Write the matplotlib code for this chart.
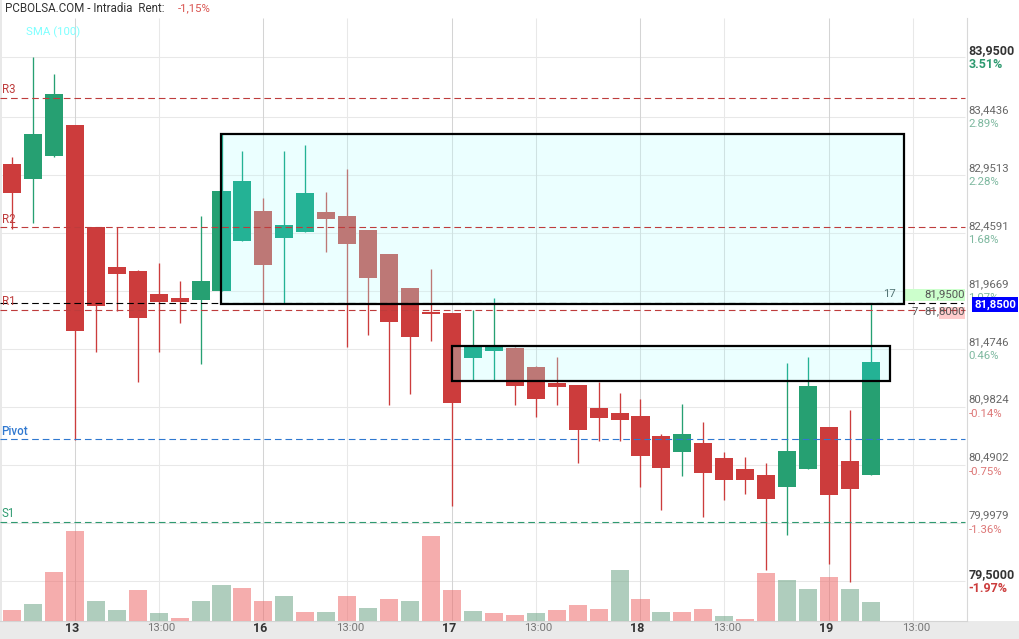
#!/usr/bin/env python3
"""
PCBOLSA intraday candlestick chart with volume and two highlighted zones
"""

import matplotlib
matplotlib.use('Agg')
import matplotlib.pyplot as plt
from matplotlib.patches import Rectangle
from matplotlib.transforms import blended_transform_factory

plt.rcParams['font.family'] = ['Roboto', 'DejaVu Sans']

# Candle data
opens = [83.044, 82.916, 83.112, 83.375, 82.509, 82.169, 82.135, 81.940, 81.906, 81.889, 81.965,
         82.390, 82.645, 82.415, 82.466, 82.636, 82.602, 82.483, 82.279, 81.991, 81.783,
         81.778, 81.396, 81.456, 81.481, 81.320, 81.184, 81.167, 80.972, 80.929, 80.904,
         80.734, 80.598, 80.674, 80.547, 80.454, 80.403, 80.301, 80.454, 80.810, 80.522, 80.403]
highs = [83.103, 83.953, 83.808, 83.375, 82.509, 82.509, 82.144, 82.203, 82.050, 82.602, 83.307,
         83.154, 82.755, 83.154, 83.205, 82.806, 83.001, 82.483, 82.279, 81.991, 82.152,
         81.778, 81.804, 81.906, 81.490, 81.328, 81.405, 81.167, 81.192, 81.099, 81.048,
         80.751, 81.006, 80.853, 80.598, 80.556, 80.505, 81.354, 81.405, 80.810, 80.955, 81.855]
lows = [82.492, 82.543, 83.103, 80.700, 81.447, 81.795, 81.192, 81.447, 81.693, 81.345, 81.965,
        82.390, 81.863, 81.863, 82.466, 82.296, 81.490, 81.592, 80.997, 81.090, 81.541,
        80.139, 81.209, 81.201, 80.997, 80.895, 80.997, 80.505, 80.691, 80.691, 80.301,
        80.105, 80.394, 80.046, 80.190, 80.241, 79.596, 79.893, 80.454, 79.647, 79.494, 80.403]
closes = [82.798, 83.299, 83.638, 81.626, 81.838, 82.110, 81.736, 81.872, 81.872, 82.050, 82.815,
          82.899, 82.186, 82.526, 82.798, 82.577, 82.364, 82.076, 81.702, 81.575, 81.770,
          81.014, 81.490, 81.490, 81.158, 81.048, 81.150, 80.785, 80.887, 80.870, 80.564,
          80.462, 80.751, 80.420, 80.360, 80.360, 80.199, 80.606, 81.158, 80.233, 80.284, 81.362]
volumes = [11, 17, 49, 90, 20, 11, 31, 8, 3, 20, 36, 33, 20, 25, 9, 9, 25, 13, 22, 20, 85,
           31, 10, 8, 6, 8, 11, 16, 12, 51, 22, 9, 9, 12, 5, 2, 48, 41, 32, 44, 32, 19]
volume_up = [0, 1, 0, 0, 1, 1, 0, 1, 0, 1, 1, 0, 0, 1, 0, 1, 0, 1, 0, 1, 0,
             0, 1, 0, 0, 1, 0, 0, 0, 1, 0, 1, 0, 0, 1, 0, 0, 1, 1, 0, 1, 1]

# Price scale
scale_prices = [83.9500, 83.4436, 82.9513, 82.4591, 81.9669, 81.4746, 80.9824, 80.4902, 79.9979, 79.5000]
scale_pcts = ['3.51%', '2.89%', '2.28%', '1.68%', '1.07%', '0.46%', '-0.14%', '-0.75%', '-1.36%', '-1.97%']

# Pivot levels
level_names = ['R3', 'R2', 'R1', 'Pivot', 'S1']
level_prices = [83.608, 82.505, 81.808, 80.706, 80.006]
level_colors = ['#BE3C3C', '#BE3C3C', '#BE3C3C', '#2F78D0', '#2E9A70']

# Time axis
day_ticks = [3, 12, 21, 30, 39]
day_labels = ['13', '16', '17', '18', '19']
time_ticks = [7, 16, 25, 34, 43]
time_label = '13:00'

# Highlighted zones: left, right, top, bottom
zone_lefts = [9.98, 21.0]
zone_rights = [42.58, 41.91]
zone_tops = [83.299, 81.498]
zone_bottoms = [81.859, 81.201]

# Depth rows
depth_sizes = [17, 7]
depth_rows = [81.93, 81.78]
depth_labels = ['81,9500', '81,8000']
last_price = 81.86

RED = '#CC3C3C'
GREEN = '#26A072'
ROSE = '#BD7876'
TEAL = '#24B295'
DASH = (0, (6, 3.5))
BODY_WIDTH = 0.86
GRID_LW = 0.75

W, H = 1019, 639
fig = plt.figure(figsize=(W / 100, H / 100), dpi=100, facecolor='white')

# Grey band under the chart, thin edge on the left
fig.add_artist(Rectangle((0, 0), 1, 18 / H, transform=fig.transFigure, fc='#EAEAEA', ec='none', zorder=0))
fig.add_artist(Rectangle((0, 18 / H), 1.5 / W, 1, transform=fig.transFigure, fc='#E8E8E8', ec='none', zorder=0))

rect = [0, 18 / H, 967 / W, 603 / H]
ax = fig.add_axes(rect, zorder=1)
ax.set_xlim(-0.573, 45.585)
ax.set_ylim(79.163, 84.284)
ax.patch.set_alpha(0)

for name in ['top', 'left']:
    ax.spines[name].set_visible(False)
ax.spines['right'].set_color('#D8D8D8')
ax.spines['bottom'].set_color('#D4D4D4')
ax.tick_params(left=False, bottom=False, labelleft=False, labelbottom=False)

xs = list(range(len(opens)))

# Grid
ax.hlines(scale_prices, -0.573, 45.5, color='#E8E8E8', lw=GRID_LW, zorder=1)
ax.vlines(day_ticks, 79.163, 84.284, color='#D4D4D4', lw=GRID_LW, zorder=1)
ax.vlines(time_ticks, 79.163, 84.284, color='#E8E8E8', lw=GRID_LW, zorder=1)


def draw_candles(up_color, down_color, zorder, clip=None):
    colors = [up_color if c >= o else down_color for o, c in zip(opens, closes)]
    wicks = ax.vlines(xs, lows, highs, color=colors, lw=0.95, zorder=zorder)
    bars = ax.bar(xs, [abs(c - o) for o, c in zip(opens, closes)], bottom=[min(o, c) for o, c in zip(opens, closes)],
                  width=BODY_WIDTH, color=colors, zorder=zorder)
    if clip is not None:
        wicks.set_clip_path(clip)
        for b in bars:
            b.set_clip_path(clip)


draw_candles(GREEN, RED, 3)

# Depth rows on the right edge
depth_unit = 0.18
for size, row in zip(depth_sizes, depth_rows):
    color = '#CCFFCC' if row > 81.85 else '#FFCCCC'
    ax.barh(row, size * depth_unit, left=45.5 - size * depth_unit, height=0.10, color=color, zorder=2)

# Zones, candles inside them get a washed out colour
for left, right, top, bottom in zip(zone_lefts, zone_rights, zone_tops, zone_bottoms):
    fill = Rectangle((left, bottom), right - left, top - bottom, fc='#EBFFFF', ec='none', zorder=4)
    ax.add_patch(fill)
    ax.hlines([p for p in scale_prices if bottom < p < top], left, right, color='#DCEDED', lw=GRID_LW, zorder=4.5)
    ax.vlines([t for t in day_ticks + time_ticks if left < t < right], bottom, top, color='#CFE2E2', lw=GRID_LW, zorder=4.5)
    draw_candles(TEAL, ROSE, 5, clip=fill)

# Pivot levels and last price
for price, color in zip(level_prices, level_colors):
    ax.hlines(price, -0.573, 45.5, color=color, lw=0.8, linestyle=DASH, zorder=6)
ax.hlines(last_price, -0.573, 45.4, color='black', lw=0.8, linestyle=DASH, zorder=6)

for left, right, top, bottom in zip(zone_lefts, zone_rights, zone_tops, zone_bottoms):
    ax.add_patch(Rectangle((left, bottom), right - left, top - bottom, fc='none', ec='black', lw=1.6, zorder=7))

# Level names on the left
for name, price, color in zip(level_names, level_prices, level_colors):
    ax.text(-0.5, price + 0.015, name, color=color, fontsize=8.3, va='bottom', ha='left', zorder=8,
            fontweight='medium' if name == 'Pivot' else 'normal')

ax.text(0.67, 84.16, 'SMA (100)', color='#7FFFFF', fontsize=8.2, va='center', ha='left', zorder=8)

# Price scale texts
x_scale = 45.66
for i, (price, pct) in enumerate(zip(scale_prices, scale_pcts)):
    strong = i in (0, len(scale_prices) - 1)
    ax.text(x_scale, price + 0.06, f'{price:.4f}'.replace('.', ','), color='#333333' if strong else '#666666',
            fontsize=9 if strong else 8.2, fontweight='bold' if strong else 'normal', va='center', ha='left', zorder=8)
    if pct.startswith('-'):
        color = '#CC3C3C' if strong else '#DD7777'
    else:
        color = '#2E9A70' if strong else '#7DB89F'
    ax.text(x_scale, price - 0.064, pct, color=color, fontsize=9 if strong else 8.2,
            fontweight='bold' if strong else 'normal', va='center', ha='left', zorder=8)

# Depth texts
ax.text(45.5, depth_rows[0] + 0.01, depth_labels[0], color='#555555', fontsize=8.2, va='center', ha='right', zorder=8)
ax.text(45.5, depth_rows[1] + 0.01, depth_labels[1], color='#555555', fontsize=8.2, va='center', ha='right', zorder=8)
ax.text(41.9, depth_rows[0] + 0.01, str(depth_sizes[0]), color='#557777', fontsize=8.2, va='center', ha='center', zorder=8)
ax.text(43.1, depth_rows[1] + 0.01, str(depth_sizes[1]), color='#555555', fontsize=8.2, va='center', ha='center', zorder=8)

# Last price tag
ax.text(45.93, 81.85, '81,8500', color='white', fontsize=8.2, fontweight='bold', va='center', ha='left', zorder=9,
        bbox=dict(facecolor='#0000FF', edgecolor='none', pad=1.6))

# Time labels
trans = blended_transform_factory(ax.transData, ax.transAxes)
for tick, label in zip(day_ticks, day_labels):
    ax.text(tick - 0.14, -0.012, label, transform=trans, color='#333333', fontsize=9, fontweight='bold',
            va='center', ha='center')
for tick in time_ticks:
    ax.text(tick + 0.14, -0.012, time_label, transform=trans, color='#777777', fontsize=8.2, va='center', ha='center')

# Volume on its own scale
ax_vol = fig.add_axes(rect, zorder=2, sharex=ax)
ax_vol.patch.set_alpha(0)
ax_vol.set_ylim(0, 603)
ax_vol.axis('off')
ax_vol.bar(xs, volumes, width=BODY_WIDTH, alpha=0.55, color=['#6EA587' if u else '#EE6B6B' for u in volume_up])

# Header
fig.text(5 / W, 1 - 8.5 / H, 'PCBOLSA.COM - Intradia  Rent:', color='#333333', fontsize=8.4, va='center', ha='left')
fig.text(178 / W, 1 - 8.5 / H, '-1,15%', color='#D9534F', fontsize=8.2, va='center', ha='left')

plt.savefig('out.png', dpi=100)
plt.close()
